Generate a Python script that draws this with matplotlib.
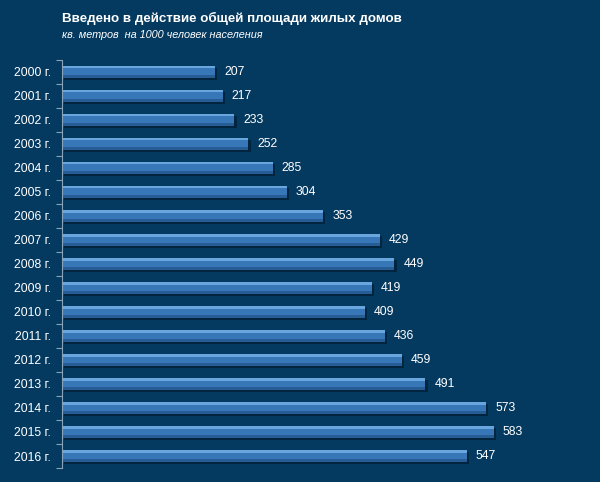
import matplotlib
matplotlib.use("Agg")
import matplotlib.pyplot as plt
import numpy as np

# Datos
anios = ["2000 г.", "2001 г.", "2002 г.", "2003 г.", "2004 г.", "2005 г.",
         "2006 г.", "2007 г.", "2008 г.", "2009 г.", "2010 г.", "2011 г.",
         "2012 г.", "2013 г.", "2014 г.", "2015 г.", "2016 г."]
valores = [207, 217, 233, 252, 285, 304, 353, 429, 449, 419, 409, 436,
           459, 491, 573, 583, 547]

titulo = "Введено в действие общей площади жилых домов"
subtitulo = "кв. метров  на 1000 человек населения"

plt.rcParams["font.family"] = ["Liberation Sans", "DejaVu Sans"]

fondo = "#053a60"
fig = plt.figure(figsize=(6.0, 4.82), dpi=100, facecolor=fondo)
ax = fig.add_axes([0.103, 0.029, 0.895, 0.847])
ax.set_facecolor(fondo)

y = np.arange(len(anios))
# sombra, cuerpo y brillo de las barras
ax.barh(y + 0.1, valores, height=0.5, color="#02253f", left=3, lw=0)
ax.barh(y, valores, height=0.5, color="#3777b8", lw=0)
ax.barh(y - 0.19, valores, height=0.1, color="#6aa6de", lw=0)
ax.barh(y + 0.19, valores, height=0.12, color="#265d95", lw=0)

for yi, v in zip(y, valores):
    ax.text(v + 12, yi, str(v), color="white", fontsize=8.8,
            va="center", ha="left")

ax.set_xlim(0, 725)
ax.set_ylim(len(anios) - 0.5, -0.5)
ax.set_xticks([])
ax.set_yticks(y)
ax.set_yticklabels(anios, color="white", fontsize=8.8)
ax.tick_params(axis="y", which="major", length=0, pad=8)
ax.set_yticks(np.arange(-0.5, len(anios), 1.0), minor=True)
ax.tick_params(axis="y", which="minor", length=4, color="#8aa2b8", width=0.8)
for s in ["top", "right", "bottom"]:
    ax.spines[s].set_visible(False)
ax.spines["left"].set_color("#8aa2b8")
ax.spines["left"].set_linewidth(0.8)

fig.text(0.103, 0.962, titulo, color="white", fontsize=9.6,
         fontweight="bold", va="center", ha="left")
fig.text(0.103, 0.927, subtitulo, color="white", fontsize=7.8,
         style="italic", va="center", ha="left")

fig.savefig("out.png", dpi=100, facecolor=fondo)
